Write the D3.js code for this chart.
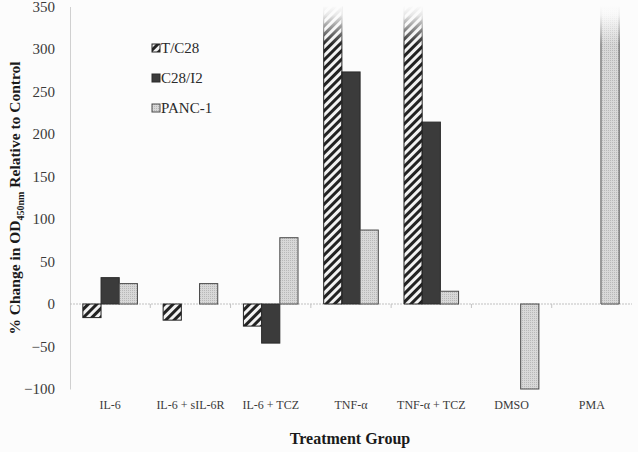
<!DOCTYPE html>
<html>
<head>
<meta charset="utf-8">
<script src="https://cdn.jsdelivr.net/npm/d3@7"></script>
<style>
  html, body { margin: 0; padding: 0; background: #fcfcfc; }
  svg { display: block; font-family: "Liberation Serif", "Times New Roman", serif; }
</style>
</head>
<body>
<div id="chart"></div>
<script>
// data (values above 350 run off the top of the axis)
const categories = ["IL-6", "IL-6 + sIL-6R", "IL-6 + TCZ", "TNF-\u03b1", "TNF-\u03b1 + TCZ", "DMSO", "PMA"];
const seriesNames = ["T/C28", "C28/I2", "PANC-1"];
const tc28 = [-16, -19, -26, 400, 400, 0, 0];
const c28i2 = [31, 0, -46, 273, 214, 0, 0];
const panc1 = [24, 24, 78, 87, 15, -100, 400];
const yTicks = [-100, -50, 0, 50, 100, 150, 200, 250, 300, 350];

const width = 638, height = 452;
const margin = { left: 70, right: 6, top: 6.5, bottom: 63 };
const yMin = -100, yMax = 350;
const FONT = "'Liberation Serif', 'Times New Roman', serif";

const svg = d3.select("#chart").append("svg")
    .attr("width", width)
    .attr("height", height);

const defs = svg.append("defs");

// diagonal hatch for T/C28
const hatch = defs.append("pattern")
    .attr("id", "hatch")
    .attr("patternUnits", "userSpaceOnUse")
    .attr("width", 6)
    .attr("height", 6)
    .attr("patternTransform", "rotate(45)");
hatch.append("rect").attr("width", 6).attr("height", 6).attr("fill", "#f2f2f2");
hatch.append("rect").attr("width", 3).attr("height", 6).attr("fill", "#222");

// speckled light grey for PANC-1
const dots = defs.append("pattern")
    .attr("id", "dots")
    .attr("patternUnits", "userSpaceOnUse")
    .attr("width", 2)
    .attr("height", 2);
dots.append("rect").attr("width", 2).attr("height", 2).attr("fill", "#d8d8d8");
dots.append("rect").attr("width", 1).attr("height", 1).attr("fill", "#b8b8b8");

// fade for off-scale bars
const fade = defs.append("linearGradient")
    .attr("id", "fade")
    .attr("x1", 0).attr("y1", 0).attr("x2", 0).attr("y2", 1);
fade.append("stop").attr("offset", "0%").attr("stop-color", "#fcfcfc").attr("stop-opacity", 1);
fade.append("stop").attr("offset", "25%").attr("stop-color", "#fcfcfc").attr("stop-opacity", 0.9);
fade.append("stop").attr("offset", "100%").attr("stop-color", "#fcfcfc").attr("stop-opacity", 0);

const fills = ["url(#hatch)", "#3b3b3b", "url(#dots)"];
const strokes = ["#222", "#2a2a2a", "#4a4a4a"];

const x = d3.scaleBand()
    .domain(categories)
    .range([margin.left, width - margin.right])
    .paddingInner(0)
    .paddingOuter(0);

const y = d3.scaleLinear()
    .domain([yMin, yMax])
    .range([height - margin.bottom, margin.top]);

const xs = d3.scaleBand()
    .domain(seriesNames)
    .range([x.bandwidth() * 0.16, x.bandwidth() * 0.84]);

// y axis
const yAxis = svg.append("g")
    .attr("transform", `translate(${margin.left},0)`)
    .call(d3.axisLeft(y).tickValues(yTicks).tickSize(0).tickPadding(15));
yAxis.select(".domain").attr("stroke", "#d0d0d0").attr("stroke-width", 1);
yAxis.selectAll("text")
    .attr("fill", "#3a3a3a")
    .style("font-size", "15px")
    .style("font-family", FONT);

// zero line with small ticks between groups
svg.append("line")
    .attr("x1", margin.left).attr("x2", width - margin.right)
    .attr("y1", y(0)).attr("y2", y(0))
    .attr("stroke", "#c0c0c0")
    .attr("stroke-dasharray", "2,1");
svg.append("g")
    .selectAll("line")
    .data(categories.slice(1))
    .join("line")
    .attr("x1", d => x(d)).attr("x2", d => x(d))
    .attr("y1", y(0)).attr("y2", y(0) + 4)
    .attr("stroke", "#c4c4c4");

// bars
const series = [tc28, c28i2, panc1];
const bars = [];
series.forEach((vals, si) => {
    vals.forEach((v, ci) => {
        if (v !== 0) bars.push({ cat: categories[ci], s: seriesNames[si], si, v });
    });
});

const barG = svg.append("g");
barG.selectAll("rect")
    .data(bars)
    .join("rect")
    .attr("x", d => x(d.cat) + xs(d.s))
    .attr("width", xs.bandwidth())
    .attr("y", d => y(Math.max(0, Math.min(d.v, yMax))))
    .attr("height", d => Math.abs(y(Math.min(d.v, yMax)) - y(0)))
    .attr("fill", d => fills[d.si])
    .attr("stroke", d => d.v > yMax ? "none" : strokes[d.si])
    .attr("stroke-width", 1);

// side edges for off-scale bars (no top edge), then fade overlay
const off = bars.filter(d => d.v > yMax);
barG.selectAll("path.edge")
    .data(off)
    .join("path")
    .attr("class", "edge")
    .attr("fill", "none")
    .attr("stroke", d => strokes[d.si])
    .attr("d", d => {
        const x0 = x(d.cat) + xs(d.s), x1 = x0 + xs.bandwidth();
        return `M${x0},${y(yMax)}V${y(0)}H${x1}V${y(yMax)}`;
    });
barG.selectAll("rect.fade")
    .data(off)
    .join("rect")
    .attr("class", "fade")
    .attr("x", d => x(d.cat) + xs(d.s) - 1)
    .attr("width", xs.bandwidth() + 2)
    .attr("y", y(yMax) - 1)
    .attr("height", y(305) - y(yMax) + 1)
    .attr("fill", "url(#fade)");

// category labels
svg.append("g")
    .selectAll("text")
    .data(categories)
    .join("text")
    .attr("x", d => x(d) + x.bandwidth() / 2)
    .attr("y", 409)
    .attr("text-anchor", "middle")
    .attr("fill", "#3a3a3a")
    .style("font-size", "12px")
    .text(d => d);

// axis titles
svg.append("text")
    .attr("x", 350)
    .attr("y", 444)
    .attr("text-anchor", "middle")
    .attr("fill", "#1a1a1a")
    .style("font-size", "16px")
    .style("font-weight", "bold")
    .text("Treatment Group");

const yt = svg.append("text")
    .attr("transform", "translate(20,198) rotate(-90)")
    .attr("text-anchor", "middle")
    .attr("fill", "#1a1a1a")
    .style("font-size", "15.5px")
    .style("font-weight", "bold");
yt.append("tspan").text("% Change in OD");
yt.append("tspan").attr("dy", 4).style("font-size", "10px").text("450nm");
yt.append("tspan").attr("dy", -4).text(" Relative to Control");

// legend
const legend = svg.append("g").attr("transform", "translate(152,48)");
const li = legend.selectAll("g")
    .data(seriesNames)
    .join("g")
    .attr("transform", (d, i) => `translate(0,${i * 30})`);
li.append("rect")
    .attr("x", 0).attr("y", -4)
    .attr("width", 8).attr("height", 8)
    .attr("fill", (d, i) => fills[i])
    .attr("stroke", (d, i) => strokes[i]);
li.append("text")
    .attr("x", 9)
    .attr("y", 5)
    .attr("fill", "#2a2a2a")
    .style("font-size", "15px")
    .text(d => d);
</script>
</body>
</html>
